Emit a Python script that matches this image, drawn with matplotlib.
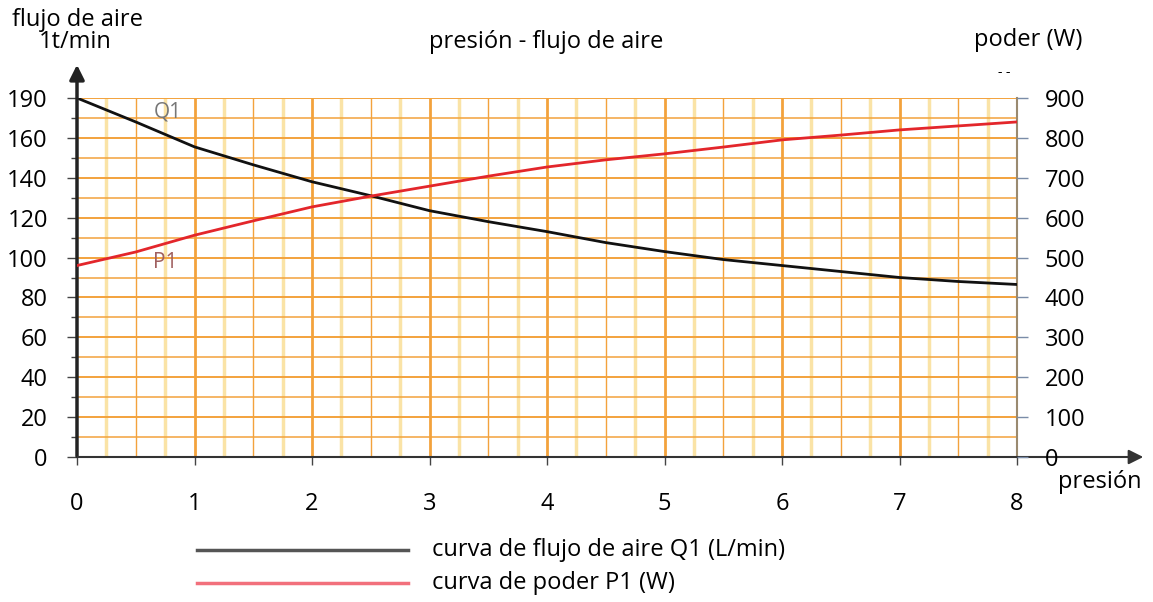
import numpy as np
import matplotlib
matplotlib.use("Agg")
import matplotlib.pyplot as plt
from matplotlib.lines import Line2D

plt.rcParams['font.family'] = ['Open Sans', 'DejaVu Sans']

# presión (eje x)
presion = [0, 0.5, 1, 1.5, 2, 2.5, 3, 3.5, 4, 4.5, 5, 5.5, 6, 6.5, 7, 7.5, 8]
# flujo de aire Q1, en unidades del eje izquierdo (arriba = "190")
q1 = [180, 168, 155.5, 146.5, 138, 131, 123.5, 118, 113, 107.5, 103, 99, 96, 93, 90, 88, 86.5]
# poder P1 (W)
p1 = [480, 514, 556, 592, 627, 654, 679, 704, 727, 745, 760, 777, 795, 807, 820, 830, 840]

yticks_izq = [0, 20, 40, 60, 80, 100, 120, 140, 160, 180]
ylab_izq = ["0", "20", "40", "60", "80", "100", "120", "140", "160", "190"]
yticks_der = list(range(0, 1000, 100))
xticks = list(range(0, 9))

fs = 17
W, H = 1153, 602
fig = plt.figure(figsize=(W / 100, H / 100), dpi=100)
x0, x1, y0, y1 = 77, 1017, 457, 98
ax = fig.add_axes([x0 / W, (H - y0) / H, (x1 - x0) / W, (y0 - y1) / H])
ax.set_xlim(0, 8)
ax.set_ylim(0, 180)

naranja = "#F3A23C"
amarillo = "#FAE3A6"
# rejilla
for v in np.arange(0.25, 8, 0.25):
    if abs(v - round(v)) < 1e-9:
        ax.axvline(v, color=naranja, lw=2.0, zorder=1)
    elif abs(v * 2 - round(v * 2)) < 1e-9:
        ax.axvline(v, color=naranja, lw=1.0, zorder=1)
    else:
        ax.axvline(v, color=amarillo, lw=2.5, zorder=1)
for h in range(10, 181, 10):
    ax.axhline(h, color=naranja, lw=1.4 if h % 20 == 0 else 1.1, zorder=1)

ax.plot(presion, q1, color="#111111", lw=2.0, zorder=3)

for s in ["left", "bottom", "top"]:
    ax.spines[s].set_visible(False)
ax.spines["right"].set_color("#9A8A70")
ax.spines["right"].set_linewidth(1.5)

ax.set_yticks(yticks_izq)
ax.set_yticklabels(ylab_izq, fontsize=fs)
ax.set_yticks(range(10, 180, 20), minor=True)
ax.tick_params(axis="y", which="major", length=7, width=1, color="#444444", pad=14)
ax.tick_params(axis="y", which="minor", length=4, width=1, color="#444444")
ax.set_xticks(xticks)
ax.set_xticklabels([str(t) for t in xticks], fontsize=fs)
ax.set_xticks(np.arange(0.5, 8, 1), minor=True)
ax.tick_params(axis="x", which="major", length=6, width=1, color="#444444", pad=19)
ax.tick_params(axis="x", which="minor", length=0)

ax2 = ax.twinx()
ax2.set_ylim(0, 900)
ax2.plot(presion, p1, color="#E3262B", lw=2.0, zorder=3)
for s in ["left", "bottom", "top", "right"]:
    ax2.spines[s].set_visible(False)
ax2.set_yticks(yticks_der)
ax2.set_yticklabels([str(t) for t in yticks_der], fontsize=fs)
ax2.tick_params(axis="y", length=8, width=1, color="#7A8CA8", pad=12)

ax.text(0.65, 178, "Q1", color="#777777", fontsize=15, ha="left", va="top", zorder=4)
ax.text(0.65, 103, "P1", color="#A06060", fontsize=15, ha="left", va="top", zorder=4)

# ejes con flecha
ax.annotate("", xy=(x0, H - 62), xytext=(x0, H - y0 - 2), xycoords="figure pixels",
            arrowprops=dict(arrowstyle="-|>", color="#222222", lw=2.5, mutation_scale=22))
ax.annotate("", xy=(1146, H - y0), xytext=(x0 - 2, H - y0), xycoords="figure pixels",
            arrowprops=dict(arrowstyle="-|>", color="#333333", lw=1.5, mutation_scale=22))

# textos
fig.text(77 / W, 1 - 20 / H, "flujo de aire", fontsize=fs, ha="center", va="center")
fig.text(75 / W, 1 - 42 / H, "1t/min", fontsize=fs, ha="center", va="center")
fig.text(546 / W, 1 - 42 / H, "presión - flujo de aire", fontsize=fs, ha="center", va="center")
fig.text(1028 / W, 1 - 40 / H, "poder (W)", fontsize=fs, ha="center", va="center")
fig.text(1004 / W, 1 - 73 / H, "- -", fontsize=10, ha="center", va="center")
fig.text(1100 / W, 1 - 482 / H, "presión", fontsize=fs, ha="center", va="center")

# leyenda
fig.add_artist(Line2D([197 / W, 408 / W], [1 - 550 / H, 1 - 550 / H], color="#555555", lw=2.5))
fig.add_artist(Line2D([197 / W, 408 / W], [1 - 583 / H, 1 - 583 / H], color="#F2707C", lw=2.5))
fig.text(432 / W, 1 - 550 / H, "curva de flujo de aire Q1 (L/min)", fontsize=fs, ha="left", va="center")
fig.text(432 / W, 1 - 583 / H, "curva de poder P1 (W)", fontsize=fs, ha="left", va="center")

fig.savefig("out.png", dpi=100)
